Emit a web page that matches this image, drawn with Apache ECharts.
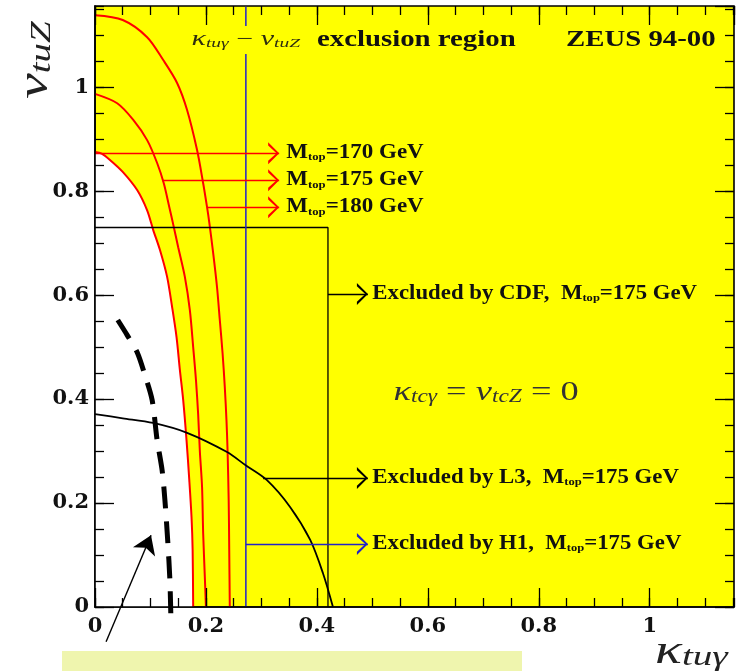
<!DOCTYPE html>
<html><head><meta charset="utf-8">
<script src="https://cdn.jsdelivr.net/npm/echarts@6/dist/echarts.min.js"></script>
<style>html,body{margin:0;padding:0;background:#fff}#c{width:744px;height:671px}</style>
</head><body><div id="c"></div>
<script>
// ---- data ----
const xTickLabels = ['0', '0.2', '0.4', '0.6', '0.8', '1'];
const yTickLabels = ['0', '0.2', '0.4', '0.6', '0.8', '1'];
const curve170 = [[0,0.875],[0.012,0.872],[0.027,0.860],[0.050,0.837],[0.076,0.802],[0.094,0.763],[0.105,0.725],[0.117,0.687],[0.130,0.635],[0.139,0.577],[0.147,0.519],[0.153,0.456],[0.159,0.398],[0.165,0.321],[0.170,0.244],[0.174,0.173],[0.176,0.110],[0.177,0]];
const curve175 = [[0,0.987],[0.040,0.969],[0.069,0.937],[0.094,0.898],[0.112,0.854],[0.124,0.815],[0.134,0.769],[0.141,0.736],[0.150,0.692],[0.162,0.635],[0.171,0.571],[0.177,0.500],[0.182,0.437],[0.186,0.370],[0.189,0.300],[0.193,0.231],[0.195,0.142],[0.198,0.058],[0.200,0]];
const curve180 = [[0,1.138],[0.050,1.129],[0.094,1.096],[0.123,1.052],[0.148,1.008],[0.166,0.956],[0.184,0.879],[0.195,0.815],[0.202,0.769],[0.206,0.740],[0.213,0.681],[0.220,0.615],[0.225,0.552],[0.230,0.488],[0.234,0.423],[0.237,0.360],[0.239,0.300],[0.241,0.206],[0.242,0.110],[0.243,0]];
const curveL3 = [[0,0.371],[0.050,0.363],[0.105,0.354],[0.166,0.335],[0.238,0.298],[0.271,0.273],[0.310,0.244],[0.352,0.192],[0.388,0.129],[0.411,0.065],[0.429,0]];
const cdfBox = [[0,0.73],[0.42,0.73],[0.42,0]];
const h1Line = [[0.272,0],[0.272,1.155]];
const dashedCurve = [[0.041,0.552],[0.058,0.523],[0.076,0.490],[0.090,0.446],[0.103,0.398],[0.112,0.321],[0.121,0.263],[0.126,0.206],[0.131,0.129],[0.135,0.052],[0.137,-0.031]];
const arrow170 = [[0,0.873],[0.332,0.873]];
const arrow175 = [[0.121,0.821],[0.332,0.821]];
const arrow180 = [[0.202,0.769],[0.332,0.769]];
const arrowCDF = [[0.42,0.602],[0.492,0.602]];
const arrowL3 = [[0.303,0.248],[0.492,0.248]];
const arrowH1 = [[0.272,0.121],[0.492,0.121]];
const arrowPointer = [[0.020,-0.067],[0.101,0.138]];

// ---- chart ----
const XMAX = 1.152, YMAX = 1.156;
const RED = '#ff0000', BLUE = '#2222c8', BLACK = '#000';
const chevron = 'path://M5,0 L5.01,0 Z M5,10 L10,20 L8.5,20 L5,12.4 L1.5,20 L0,20 Z';
const lblFont = {fontFamily: 'DejaVu Serif', fontWeight: 'bold', fontSize: 21, color: '#111'};

function makeAxis(dim, pos, interval, len, labels, lineShow) {
  const a = {
    type: 'value', min: 0, max: dim === 'x' ? XMAX : YMAX, interval: interval, position: pos, z: 10,
    axisLine: {show: lineShow, onZero: false, lineStyle: {color: BLACK, width: 1.6}},
    axisTick: {show: true, inside: true, length: len, lineStyle: {color: BLACK, width: 1.3}},
    splitLine: {show: false},
    axisLabel: {show: false}
  };
  if (labels) {
    a.axisLabel = Object.assign({show: true, showMaxLabel: false, margin: dim === 'x' ? 9 : 6,
      formatter: function (v) {
        const i = Math.round(v / 0.2);
        const arr = dim === 'x' ? xTickLabels : yTickLabels;
        return (Math.abs(v - i * 0.2) < 1e-6 && arr[i] !== undefined) ? arr[i] : '';
      }}, lblFont);
  }
  return a;
}

const chart = echarts.init(document.getElementById('c'), null, {renderer: 'canvas'});
const lineBase = {type: 'line', symbol: 'none', xAxisIndex: 0, yAxisIndex: 0, animation: false, silent: true};
function arrowItem(c, color) { return {coords: c, lineStyle: {color: color, width: 1.4, opacity: 1}}; }

chart.setOption({
  animation: false,
  grid: {left: 95, right: 10, top: 6, bottom: 64, show: true, backgroundColor: '#ffff00', borderColor: BLACK, borderWidth: 1.6},
  xAxis: [
    makeAxis('x', 'bottom', 0.2, 19, true, true),
    makeAxis('x', 'bottom', 0.05, 9, false, false),
    makeAxis('x', 'top', 0.2, 19, false, false),
    makeAxis('x', 'top', 0.05, 9, false, false)
  ],
  yAxis: [
    makeAxis('y', 'left', 0.2, 19, true, true),
    makeAxis('y', 'left', 0.05, 9, false, false),
    makeAxis('y', 'right', 0.2, 19, false, false),
    makeAxis('y', 'right', 0.05, 9, false, false)
  ],
  series: [
    Object.assign({}, lineBase, {name: 'M170', data: curve170, smooth: 0.3, z: 3, lineStyle: {color: RED, width: 2}, areaStyle: {color: '#ffffff', opacity: 1}}),
    Object.assign({}, lineBase, {name: 'M175', data: curve175, smooth: 0.3, z: 4, lineStyle: {color: RED, width: 2}}),
    Object.assign({}, lineBase, {name: 'M180', data: curve180, smooth: 0.3, z: 4, lineStyle: {color: RED, width: 2}}),
    Object.assign({}, lineBase, {name: 'CDF', data: cdfBox, z: 4, lineStyle: {color: BLACK, width: 1.3}}),
    Object.assign({}, lineBase, {name: 'L3', data: curveL3, smooth: 0.3, z: 5, lineStyle: {color: BLACK, width: 1.8}}),
    Object.assign({}, lineBase, {name: 'H1', data: h1Line, z: 4, lineStyle: {color: BLUE, width: 1.5}}),
    Object.assign({}, lineBase, {name: 'dashed', data: dashedCurve, smooth: 0.3, clip: false, z: 6, lineStyle: {color: BLACK, width: 5, type: [22, 13]}}),
    {type: 'lines', coordinateSystem: 'cartesian2d', xAxisIndex: 0, yAxisIndex: 0, clip: false, z: 6, silent: true, animation: false,
     symbol: ['none', chevron], symbolSize: [11, 22], lineStyle: {opacity: 1},
     data: [arrowItem(arrow170, RED), arrowItem(arrow175, RED), arrowItem(arrow180, RED),
            arrowItem(arrowCDF, BLACK), arrowItem(arrowL3, BLACK), arrowItem(arrowH1, BLUE)]},
    {type: 'lines', coordinateSystem: 'cartesian2d', xAxisIndex: 0, yAxisIndex: 0, clip: false, z: 6, silent: true, animation: false,
     symbol: ['none', 'arrow'], symbolSize: [12, 18], lineStyle: {opacity: 1},
     data: [arrowItem(arrowPointer, BLACK)]}
  ]
});

function P(x, y) { return chart.convertToPixel({gridIndex: 0}, [x, y]); }
const bold = 'Liberation Serif';
const ital = 'Liberation Serif';
function subLabel(txt1, sub, txt2, x, y, sx) {
  return {type: 'text', x: x, y: y, scaleX: sx, z: 100,
    style: {text: '{m|' + txt1 + '}{s|' + sub + '}{m|' + txt2 + '}', align: 'left', verticalAlign: 'middle', textAlign: 'left', textVerticalAlign: 'middle',
      rich: {m: {fontFamily: bold, fontWeight: 'bold', fontSize: 20, lineHeight: 20, fill: '#111', color: '#111'},
             s: {fontFamily: bold, fontWeight: 'bold', fontSize: 11, lineHeight: 1, verticalAlign: 'bottom', fill: '#111', color: '#111'}}}};
}
const mathRich = function (big, small, col) {
  return {
    k: {fontFamily: ital, fontStyle: 'italic', fontSize: big, lineHeight: big, fill: col, color: col},
    s: {fontFamily: ital, fontStyle: 'italic', fontSize: small, lineHeight: Math.round(small * 0.3), verticalAlign: 'bottom', fill: col, color: col},
    n: {fontFamily: ital, fontSize: big, lineHeight: big, fill: col, color: col}
  };
};

const pM170 = P(0.345, 0.873), pM175 = P(0.345, 0.821), pM180 = P(0.345, 0.769);
const pCDF = P(0.50, 0.602), pL3 = P(0.50, 0.248), pH1 = P(0.50, 0.121);
const pTc = P(0.538, 0.413);
const gr = [
  {type: 'rect', shape: {x: 62, y: 651, width: 460, height: 20}, style: {fill: '#eff5ae'}, z: 1},
  // title
  {type: 'text', x: 190, y: 40, scaleX: 1.5, z: 100,
   style: {text: '{k|κ}{s|tuγ}{n| − }{k|v}{s|tuZ}', align: 'left', verticalAlign: 'middle', textAlign: 'left', textVerticalAlign: 'middle',
     backgroundColor: '#ffff00', padding: [4, 1, 4, 1], rich: mathRich(20, 13, '#2e2e10')}},
  {type: 'text', x: 317, y: 40, scaleX: 1.2, z: 100,
   style: {text: 'exclusion region', align: 'left', verticalAlign: 'middle', textAlign: 'left', textVerticalAlign: 'middle',
     fontFamily: bold, fontWeight: 'bold', fontSize: 24, fill: '#111'}},
  {type: 'text', x: 566, y: 40, scaleX: 1.2, z: 100,
   style: {text: 'ZEUS 94-00', align: 'left', verticalAlign: 'middle', textAlign: 'left', textVerticalAlign: 'middle',
     fontFamily: bold, fontWeight: 'bold', fontSize: 24, fill: '#111'}},
  subLabel('M', 'top', '=170 GeV', pM170[0], pM170[1], 1.15),
  subLabel('M', 'top', '=175 GeV', pM175[0], pM175[1], 1.15),
  subLabel('M', 'top', '=180 GeV', pM180[0], pM180[1], 1.15),
  subLabel('Excluded by CDF,  M', 'top', '=175 GeV', pCDF[0], pCDF[1], 1.14),
  subLabel('Excluded by L3,  M', 'top', '=175 GeV', pL3[0], pL3[1], 1.14),
  subLabel('Excluded by H1,  M', 'top', '=175 GeV', pH1[0], pH1[1], 1.14),
  {type: 'text', x: pTc[0], y: pTc[1], scaleX: 1.3, z: 100,
   style: {text: '{k|κ}{s|tcγ}{n| = }{k|v}{s|tcZ}{n| = 0}', align: 'left', verticalAlign: 'middle', textAlign: 'left', textVerticalAlign: 'middle',
     rich: mathRich(28, 18, '#333')}},
  // axis names
  {type: 'text', x: 35, y: 60, rotation: Math.PI / 2, scaleX: 1.3, z: 100,
   style: {text: '{k|v}{s|tuZ}', align: 'center', verticalAlign: 'middle', textAlign: 'center', textVerticalAlign: 'middle',
     rich: mathRich(44, 30, '#222')}},
  {type: 'text', x: 655, y: 652, scaleX: 1.4, z: 100,
   style: {text: '{k|κ}{s|tuγ}', align: 'left', verticalAlign: 'middle', textAlign: 'left', textVerticalAlign: 'middle',
     rich: mathRich(40, 28, '#222')}}
];
chart.setOption({graphic: gr});
</script>
</body></html>
